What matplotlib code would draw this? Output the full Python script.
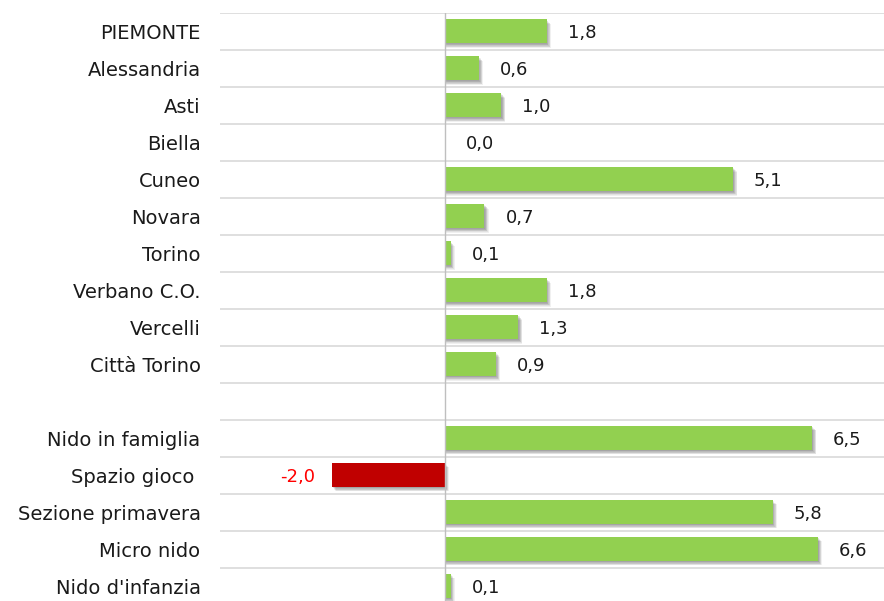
import matplotlib.pyplot as plt
import numpy as np

categories = ['PIEMONTE', 'Alessandria', 'Asti', 'Biella', 'Cuneo', 'Novara', 'Torino',
              'Verbano C.O.', 'Vercelli', 'Città Torino', '',
              'Nido in famiglia', 'Spazio gioco ', 'Sezione primavera', 'Micro nido',
              "Nido d'infanzia"]
values = [1.8, 0.6, 1.0, 0.0, 5.1, 0.7, 0.1, 1.8, 1.3, 0.9, None,
          6.5, -2.0, 5.8, 6.6, 0.1]

GREEN = '#92d050'
RED = '#c00000'
FONT = 'DejaVu Sans'

fig = plt.figure(figsize=(8.84, 6.01), dpi=100)
W, H = 884, 601
# axes in pixel coords: left 220, right 884, top 13, bottom 604.5
ax = fig.add_axes([220 / W, (H - 604.5) / H, (884 - 220) / W, (604.5 - 13) / H])

n = len(categories)
y = np.arange(n)
bar_h = 0.65

for i, v in enumerate(values):
    if v is None:
        continue
    color = RED if v < 0 else GREEN
    # soft blurred shadow, offset right/down
    if v != 0:
        for k in np.linspace(0.02, 0.13, 7):
            if v > 0:
                ax.barh(i + k * 0.9, v + k * 0.55, height=bar_h, color='#000000',
                        alpha=0.06, zorder=2, linewidth=0)
            else:
                ax.barh(i + k * 0.9, v, left=k * 0.55, height=bar_h, color='#000000',
                        alpha=0.06, zorder=2, linewidth=0)
    ax.barh(i, v, height=bar_h, color=color, zorder=3, linewidth=0)
    label = f'{v:.1f}'.replace('.', ',')
    if v < 0:
        ax.text(v - 0.3, i + 0.05, label, ha='right', va='center', fontsize=13,
                color='#ff0000', family=FONT)
    else:
        ax.text(v + 0.37, i + 0.05, label, ha='left', va='center', fontsize=13,
                color='#1a1a1a', family=FONT)

ax.set_xlim(-3.98, 7.77)
ax.set_ylim(n - 0.5, -0.5)

# row separator lines
for b in np.arange(-0.5, n, 1.0):
    ax.axhline(b, color='#d9d9d9', linewidth=1.2, zorder=1)
ax.axvline(0, color='#bfbfbf', linewidth=1.0, zorder=4)

ax.set_yticks(y)
ax.set_yticklabels(categories, fontsize=14, color='#1a1a1a', family=FONT)
ax.tick_params(axis='y', length=0, pad=14)
ax.set_xticks([])
for s in ax.spines.values():
    s.set_visible(False)

fig.savefig('out.png', dpi=100)
